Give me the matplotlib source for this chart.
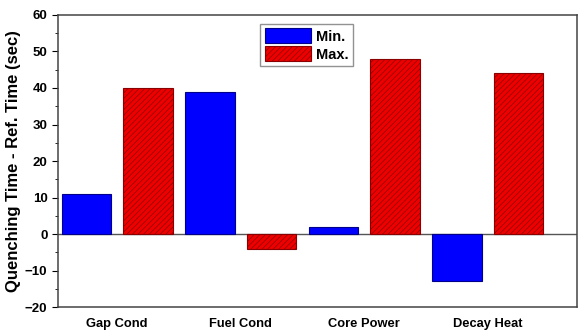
import matplotlib
matplotlib.use('Agg')
import matplotlib.pyplot as plt
import numpy as np

categories = ['Gap Cond', 'Fuel Cond', 'Core Power', 'Decay Heat']
min_values = [11, 39, 2, -13]
max_values = [40, -4, 48, 44]

plt.rcParams['font.family'] = ['Liberation Sans', 'DejaVu Sans']
plt.rcParams['font.weight'] = 'bold'
plt.rcParams['hatch.linewidth'] = 0.5

fig = plt.figure(figsize=(5.78, 3.33), dpi=100)
ax = fig.add_axes([0.100, 0.078, 0.898, 0.877])

x = np.arange(len(categories))
w = 0.4

ax.bar(x - 0.25, min_values, w, color='#0000ff', edgecolor='#00008b',
       linewidth=0.8, label='Min.')
ax.bar(x + 0.25, max_values, w, color='#ee0000', edgecolor='#8a0000',
       linewidth=0.8, hatch='//////', label='Max.')

ax.axhline(0, color='#555555', linewidth=1.0, zorder=0)

ax.set_xlim(-0.48, 3.72)
ax.set_ylim(-20, 60)
ax.set_yticks(np.arange(-20, 61, 10))
ax.set_yticks(np.arange(-20, 61, 5), minor=True)
ax.set_xticks(x)
ax.set_xticklabels(categories, fontsize=9.3, fontweight='bold')
ax.tick_params(axis='x', length=0, pad=8)
ax.tick_params(axis='y', which='major', length=4, labelsize=9.5, direction='out')
ax.tick_params(axis='y', which='minor', length=2, direction='out')

for s in ax.spines.values():
    s.set_color('#444444')
    s.set_linewidth(1.1)

ax.set_ylabel('Quenching Time - Ref. Time (sec)', fontsize=12,
              fontweight='bold', labelpad=3)

leg = ax.legend(loc='upper left', bbox_to_anchor=(0.376, 0.995), fontsize=10.5,
                frameon=True, fancybox=False, edgecolor='#777777',
                handlelength=3.2, handleheight=1.2, borderpad=0.3,
                labelspacing=0.2, handletextpad=0.3)
leg.get_frame().set_linewidth(1.0)

fig.savefig('out.png', dpi=100)
plt.close(fig)
